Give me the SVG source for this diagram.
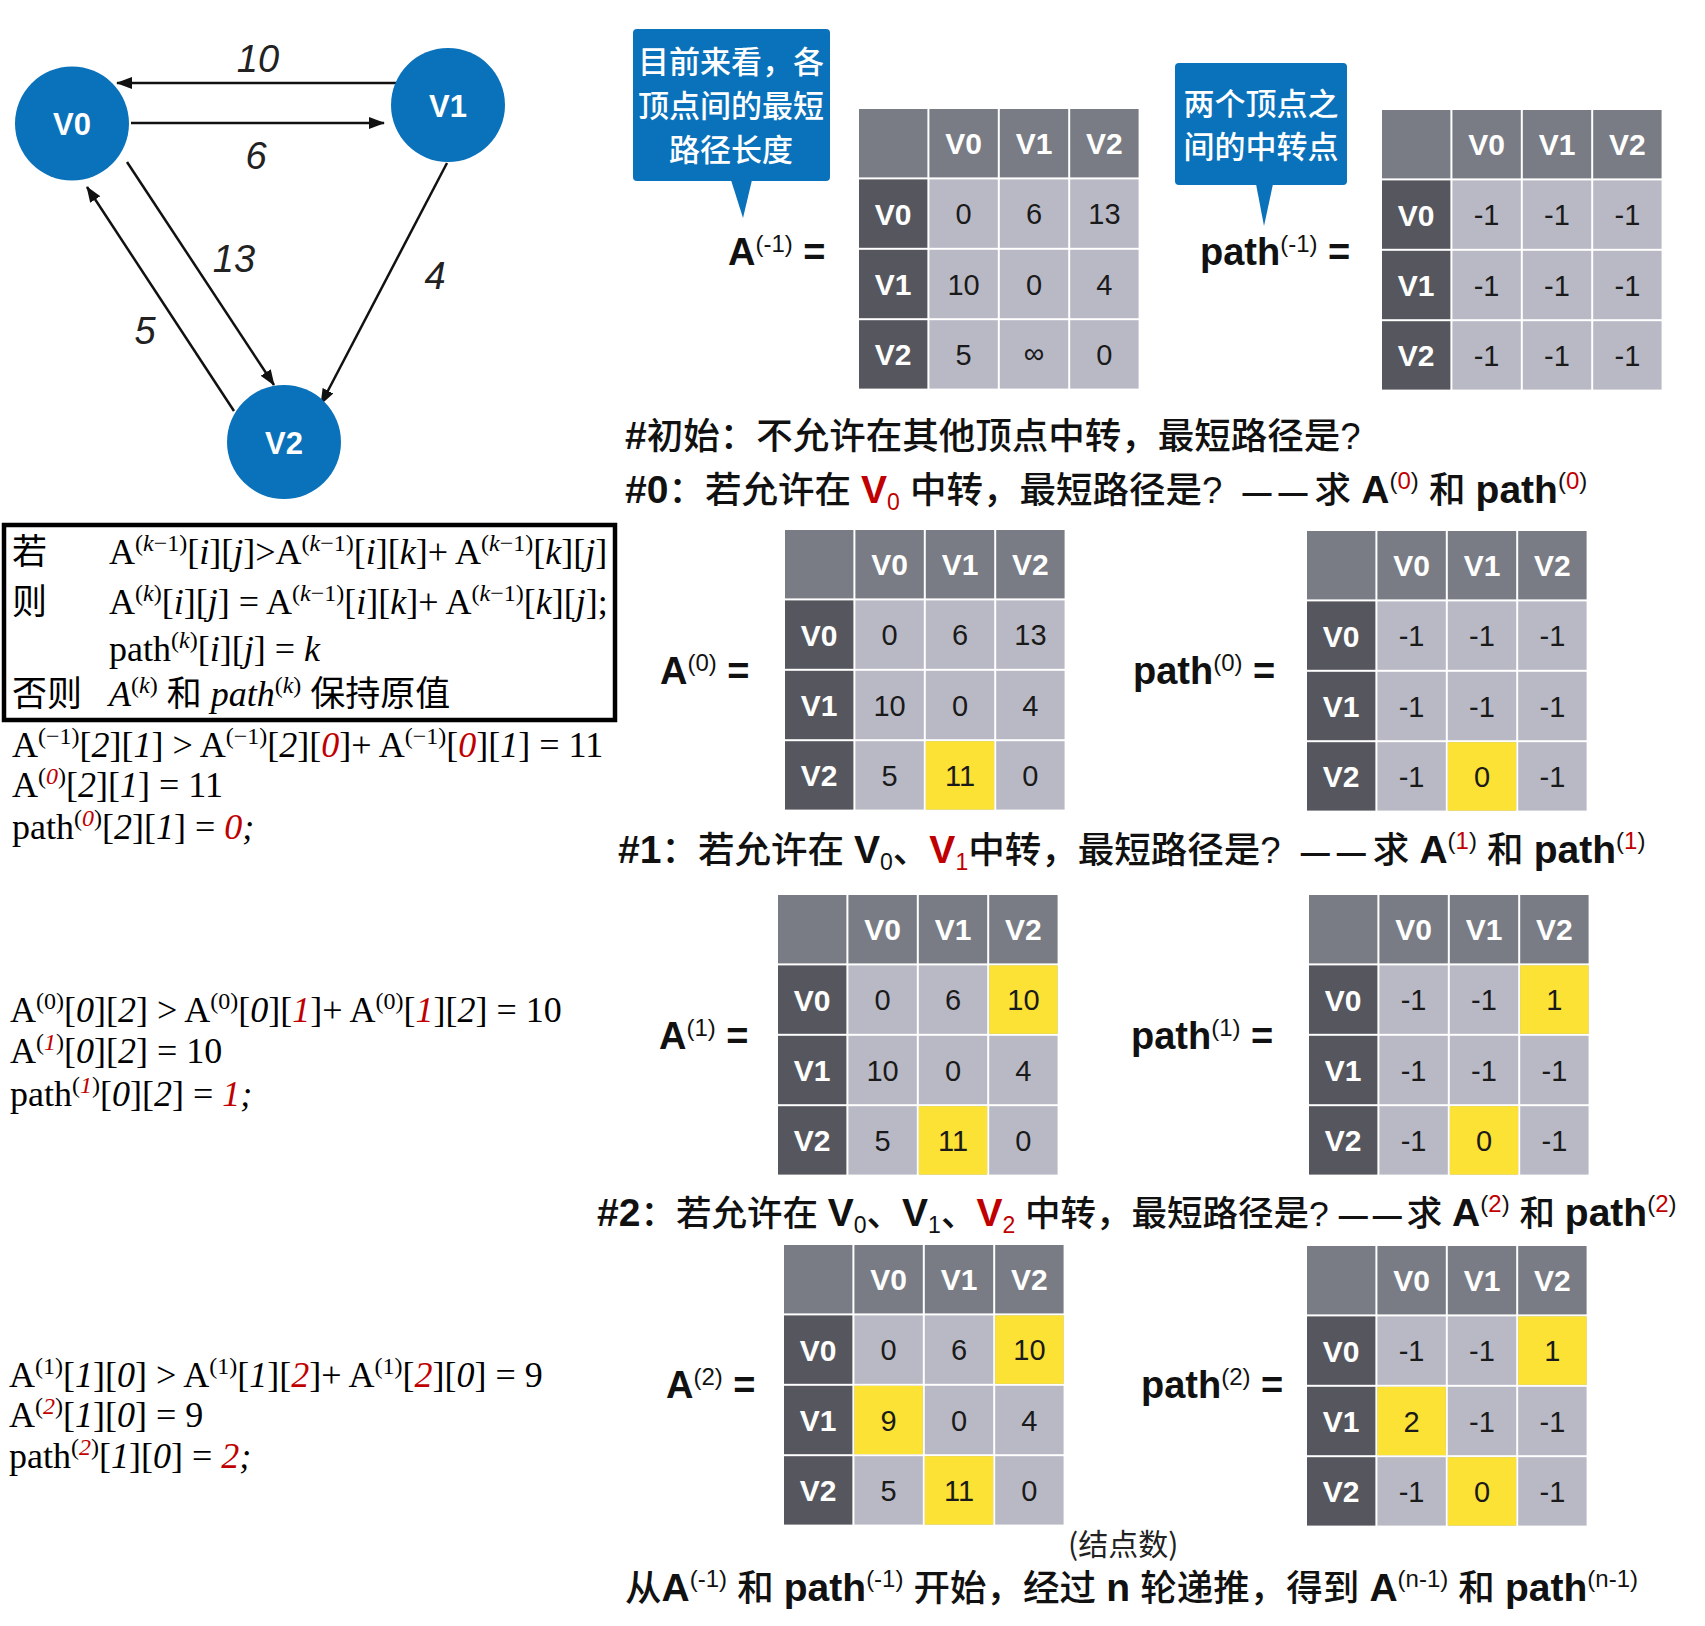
<svg xmlns="http://www.w3.org/2000/svg" width="1705" height="1626" viewBox="0 0 1705 1626">
<style>
.node{fill:#0a72ba}
.nt{font-family:"Liberation Sans",sans-serif;font-weight:bold;font-size:31px;fill:#fff;text-anchor:middle}
.edge{stroke:#111;stroke-width:2.5;fill:none}
.el{font-family:"Liberation Sans",sans-serif;font-style:italic;font-size:38px;fill:#222;text-anchor:middle}
.callout{fill:#0a72ba}
.ct{font-family:"Noto Sans CJK SC",sans-serif;font-size:31px;font-weight:500;fill:#fff;text-anchor:middle}
.ch{fill:#797c84}
.cl{fill:#56575e}
.cd{fill:#b9b9c5}
.hl{fill:#fbe235}
.hd{font-family:"Liberation Sans",sans-serif;font-weight:bold;font-size:30px;fill:#fff;text-anchor:middle}
.cv{font-family:"Liberation Sans",sans-serif;font-size:29px;fill:#1a1a1a;text-anchor:middle}
.lbl{font-family:"Liberation Sans",sans-serif;font-weight:bold;font-size:38px;fill:#111}
.h{font-family:"Liberation Sans","Noto Sans CJK SC",sans-serif;font-size:36.5px;font-weight:500;fill:#111}
.h2{font-size:35.5px}
.b{font-weight:bold;font-size:39px}
.sp{font-size:24px;font-weight:normal}
.sub{font-size:23px;font-weight:normal}
.dash{font-size:29px;font-weight:bold;letter-spacing:7px}
.red{fill:#c00000}
.tm{font-family:"Liberation Serif","Noto Sans CJK SC",serif;font-size:36px;fill:#000}
.i{font-style:italic}
.s{font-size:24px}
.cj{font-family:"Noto Sans CJK SC",sans-serif;font-size:35px;fill:#000}
.cjs{font-family:"Noto Sans CJK SC",sans-serif;font-size:35px;font-style:normal}
.note{font-family:"Noto Sans CJK SC",sans-serif;font-size:30px;fill:#222}
</style>
<defs>
<marker id="arr" viewBox="0 0 16 12" refX="15" refY="6" markerWidth="16" markerHeight="12" markerUnits="userSpaceOnUse" orient="auto"><path d="M0,0 L16,6 L0,12 z" fill="#111"/></marker>
<g id="grid">
<rect class="ch" x="1" y="1" width="68.4" height="68.4"/>
<rect class="ch" x="71.4" y="1" width="68.4" height="68.4"/>
<rect class="ch" x="141.8" y="1" width="68.4" height="68.4"/>
<rect class="ch" x="212.2" y="1" width="68.4" height="68.4"/>
<rect class="cl" x="1" y="71.4" width="68.4" height="68.4"/>
<rect class="cl" x="1" y="141.8" width="68.4" height="68.4"/>
<rect class="cl" x="1" y="212.2" width="68.4" height="68.4"/>
<rect class="cd" x="71.4" y="71.4" width="68.4" height="68.4"/>
<rect class="cd" x="141.8" y="71.4" width="68.4" height="68.4"/>
<rect class="cd" x="212.2" y="71.4" width="68.4" height="68.4"/>
<rect class="cd" x="71.4" y="141.8" width="68.4" height="68.4"/>
<rect class="cd" x="141.8" y="141.8" width="68.4" height="68.4"/>
<rect class="cd" x="212.2" y="141.8" width="68.4" height="68.4"/>
<rect class="cd" x="71.4" y="212.2" width="68.4" height="68.4"/>
<rect class="cd" x="141.8" y="212.2" width="68.4" height="68.4"/>
<rect class="cd" x="212.2" y="212.2" width="68.4" height="68.4"/>
<text class="hd" x="105.6" y="46">V0</text>
<text class="hd" x="176" y="46">V1</text>
<text class="hd" x="246.4" y="46">V2</text>
<text class="hd" x="35.2" y="116.6">V0</text>
<text class="hd" x="35.2" y="187">V1</text>
<text class="hd" x="35.2" y="257.4">V2</text>
</g>
</defs>
<rect x="0" y="0" width="1705" height="1626" fill="#fff"/>

<g id="connectors">
<line class="edge" x1="399" y1="83" x2="117" y2="83" marker-end="url(#arr)"/>
<line class="edge" x1="131" y1="123" x2="384" y2="123" marker-end="url(#arr)"/>
<line class="edge" x1="127" y1="162" x2="274" y2="385" marker-end="url(#arr)"/>
<line class="edge" x1="234" y1="411" x2="87" y2="187" marker-end="url(#arr)"/>
<line class="edge" x1="447" y1="163" x2="321" y2="404" marker-end="url(#arr)"/>
</g>
<g id="edge-labels">
<text class="el" x="258" y="72">10</text>
<text class="el" x="256" y="169">6</text>
<text class="el" x="234" y="272">13</text>
<text class="el" x="145" y="344">5</text>
<text class="el" x="435" y="289">4</text>
</g>
<g id="node-v0"><circle class="node" cx="72" cy="123.5" r="57"/><text class="nt" x="72" y="135">V0</text></g>
<g id="node-v1"><circle class="node" cx="448" cy="105" r="57"/><text class="nt" x="448" y="117">V1</text></g>
<g id="node-v2"><circle class="node" cx="284" cy="442" r="57"/><text class="nt" x="284" y="454">V2</text></g>

<g id="callout-1">
<rect class="callout" x="633" y="29" width="197" height="152" rx="4"/>
<path class="callout" d="M731,180 L752,180 L743,218 z"/>
<text class="ct" x="731" y="73">目前来看，各</text>
<text class="ct" x="731" y="117">顶点间的最短</text>
<text class="ct" x="731" y="161">路径长度</text>
</g>
<g id="callout-2">
<rect class="callout" x="1175" y="63" width="172" height="122" rx="4"/>
<path class="callout" d="M1256,184 L1273,184 L1264,226 z"/>
<text class="ct" x="1261" y="115">两个顶点之</text>
<text class="ct" x="1261" y="158">间的中转点</text>
</g>

<g id="labels">
<text class="lbl" x="728" y="265">A<tspan class="sp" dy="-13">(-1)</tspan><tspan dy="13"> =</tspan></text>
<text class="lbl" x="1200" y="265">path<tspan class="sp" dy="-13">(-1)</tspan><tspan dy="13"> =</tspan></text>
<text class="lbl" x="660" y="684">A<tspan class="sp" dy="-13">(0)</tspan><tspan dy="13"> =</tspan></text>
<text class="lbl" x="1133" y="684">path<tspan class="sp" dy="-13">(0)</tspan><tspan dy="13"> =</tspan></text>
<text class="lbl" x="659" y="1049">A<tspan class="sp" dy="-13">(1)</tspan><tspan dy="13"> =</tspan></text>
<text class="lbl" x="1131" y="1049">path<tspan class="sp" dy="-13">(1)</tspan><tspan dy="13"> =</tspan></text>
<text class="lbl" x="666" y="1398">A<tspan class="sp" dy="-13">(2)</tspan><tspan dy="13"> =</tspan></text>
<text class="lbl" x="1141" y="1398">path<tspan class="sp" dy="-13">(2)</tspan><tspan dy="13"> =</tspan></text>
</g>

<g id="table-A-1" transform="translate(858,108)"><use href="#grid"/>
<text class="cv" x="105.6" y="116">0</text><text class="cv" x="176" y="116">6</text><text class="cv" x="246.4" y="116">13</text>
<text class="cv" x="105.6" y="186.5">10</text><text class="cv" x="176" y="186.5">0</text><text class="cv" x="246.4" y="186.5">4</text>
<text class="cv" x="105.6" y="257">5</text><text class="cv" x="176" y="255" font-size="26">∞</text><text class="cv" x="246.4" y="257">0</text>
</g>
<g id="table-path-1" transform="translate(1381,109)"><use href="#grid"/>
<text class="cv" x="105.6" y="116">-1</text><text class="cv" x="176" y="116">-1</text><text class="cv" x="246.4" y="116">-1</text>
<text class="cv" x="105.6" y="186.5">-1</text><text class="cv" x="176" y="186.5">-1</text><text class="cv" x="246.4" y="186.5">-1</text>
<text class="cv" x="105.6" y="257">-1</text><text class="cv" x="176" y="257">-1</text><text class="cv" x="246.4" y="257">-1</text>
</g>
<g id="table-A0" transform="translate(784,529)"><use href="#grid"/>
<rect class="hl" x="141.8" y="212.2" width="68.4" height="68.4"/>
<text class="cv" x="105.6" y="116">0</text><text class="cv" x="176" y="116">6</text><text class="cv" x="246.4" y="116">13</text>
<text class="cv" x="105.6" y="186.5">10</text><text class="cv" x="176" y="186.5">0</text><text class="cv" x="246.4" y="186.5">4</text>
<text class="cv" x="105.6" y="257">5</text><text class="cv" x="176" y="257">11</text><text class="cv" x="246.4" y="257">0</text>
</g>
<g id="table-path0" transform="translate(1306,530)"><use href="#grid"/>
<rect class="hl" x="141.8" y="212.2" width="68.4" height="68.4"/>
<text class="cv" x="105.6" y="116">-1</text><text class="cv" x="176" y="116">-1</text><text class="cv" x="246.4" y="116">-1</text>
<text class="cv" x="105.6" y="186.5">-1</text><text class="cv" x="176" y="186.5">-1</text><text class="cv" x="246.4" y="186.5">-1</text>
<text class="cv" x="105.6" y="257">-1</text><text class="cv" x="176" y="257">0</text><text class="cv" x="246.4" y="257">-1</text>
</g>
<g id="table-A1" transform="translate(777,894)"><use href="#grid"/>
<rect class="hl" x="212.2" y="71.4" width="68.4" height="68.4"/>
<rect class="hl" x="141.8" y="212.2" width="68.4" height="68.4"/>
<text class="cv" x="105.6" y="116">0</text><text class="cv" x="176" y="116">6</text><text class="cv" x="246.4" y="116">10</text>
<text class="cv" x="105.6" y="186.5">10</text><text class="cv" x="176" y="186.5">0</text><text class="cv" x="246.4" y="186.5">4</text>
<text class="cv" x="105.6" y="257">5</text><text class="cv" x="176" y="257">11</text><text class="cv" x="246.4" y="257">0</text>
</g>
<g id="table-path1" transform="translate(1308,894)"><use href="#grid"/>
<rect class="hl" x="212.2" y="71.4" width="68.4" height="68.4"/>
<rect class="hl" x="141.8" y="212.2" width="68.4" height="68.4"/>
<text class="cv" x="105.6" y="116">-1</text><text class="cv" x="176" y="116">-1</text><text class="cv" x="246.4" y="116">1</text>
<text class="cv" x="105.6" y="186.5">-1</text><text class="cv" x="176" y="186.5">-1</text><text class="cv" x="246.4" y="186.5">-1</text>
<text class="cv" x="105.6" y="257">-1</text><text class="cv" x="176" y="257">0</text><text class="cv" x="246.4" y="257">-1</text>
</g>
<g id="table-A2" transform="translate(783,1244)"><use href="#grid"/>
<rect class="hl" x="212.2" y="71.4" width="68.4" height="68.4"/>
<rect class="hl" x="71.4" y="141.8" width="68.4" height="68.4"/>
<rect class="hl" x="141.8" y="212.2" width="68.4" height="68.4"/>
<text class="cv" x="105.6" y="116">0</text><text class="cv" x="176" y="116">6</text><text class="cv" x="246.4" y="116">10</text>
<text class="cv" x="105.6" y="186.5">9</text><text class="cv" x="176" y="186.5">0</text><text class="cv" x="246.4" y="186.5">4</text>
<text class="cv" x="105.6" y="257">5</text><text class="cv" x="176" y="257">11</text><text class="cv" x="246.4" y="257">0</text>
</g>
<g id="table-path2" transform="translate(1306,1245)"><use href="#grid"/>
<rect class="hl" x="212.2" y="71.4" width="68.4" height="68.4"/>
<rect class="hl" x="71.4" y="141.8" width="68.4" height="68.4"/>
<rect class="hl" x="141.8" y="212.2" width="68.4" height="68.4"/>
<text class="cv" x="105.6" y="116">-1</text><text class="cv" x="176" y="116">-1</text><text class="cv" x="246.4" y="116">1</text>
<text class="cv" x="105.6" y="186.5">2</text><text class="cv" x="176" y="186.5">-1</text><text class="cv" x="246.4" y="186.5">-1</text>
<text class="cv" x="105.6" y="257">-1</text><text class="cv" x="176" y="257">0</text><text class="cv" x="246.4" y="257">-1</text>
</g>

<g id="headings">
<text class="h" x="625" y="449"><tspan class="b">#</tspan>初始：不允许在其他顶点中转，最短路径是?</text>
<text class="h" x="625" y="503"><tspan class="b">#0</tspan>：若允许在 <tspan class="b red">V</tspan><tspan class="sub red" dy="7">0</tspan><tspan dy="-7"> 中转，最短路径是?&#160; </tspan><tspan class="dash">——</tspan>求 <tspan class="b">A</tspan><tspan class="sp" dy="-14">(<tspan class="red">0</tspan>)</tspan><tspan dy="14"> 和 </tspan><tspan class="b">path</tspan><tspan class="sp" dy="-14">(<tspan class="red">0</tspan>)</tspan></text>
<text class="h" x="618" y="863"><tspan class="b">#1</tspan>：若允许在 <tspan class="b">V</tspan><tspan class="sub" dy="7">0</tspan><tspan dy="-7">、</tspan><tspan class="b red">V</tspan><tspan class="sub red" dy="7">1</tspan><tspan dy="-7">中转，最短路径是?&#160; </tspan><tspan class="dash">——</tspan>求 <tspan class="b">A</tspan><tspan class="sp" dy="-14">(<tspan class="red">1</tspan>)</tspan><tspan dy="14"> 和 </tspan><tspan class="b">path</tspan><tspan class="sp" dy="-14">(<tspan class="red">1</tspan>)</tspan></text>
<text class="h h2" x="597" y="1226"><tspan class="b">#2</tspan>：若允许在 <tspan class="b">V</tspan><tspan class="sub" dy="7">0</tspan><tspan dy="-7">、</tspan><tspan class="b">V</tspan><tspan class="sub" dy="7">1</tspan><tspan dy="-7">、</tspan><tspan class="b red">V</tspan><tspan class="sub red" dy="7">2</tspan><tspan dy="-7"> 中转，最短路径是? </tspan><tspan class="dash" style="letter-spacing:5px">——</tspan>求 <tspan class="b">A</tspan><tspan class="sp" dy="-14">(<tspan class="red">2</tspan>)</tspan><tspan dy="14"> 和 </tspan><tspan class="b">path</tspan><tspan class="sp" dy="-14">(<tspan class="red">2</tspan>)</tspan></text>
<text class="note" x="1068" y="1555">(结点数)</text>
<text class="h" x="625" y="1601">从<tspan class="b">A</tspan><tspan class="sp" dy="-14">(-1)</tspan><tspan dy="14"> 和 </tspan><tspan class="b">path</tspan><tspan class="sp" dy="-14">(-1)</tspan><tspan dy="14"> 开始，经过 </tspan><tspan class="b">n</tspan> 轮递推，得到 <tspan class="b">A</tspan><tspan class="sp" dy="-14">(n-1)</tspan><tspan dy="14"> 和 </tspan><tspan class="b">path</tspan><tspan class="sp" dy="-14">(n-1)</tspan></text>
</g>

<g id="rule-box">
<rect x="4" y="525" width="611" height="195" fill="none" stroke="#000" stroke-width="4.5"/>
<text class="cj" x="12" y="564">若</text>
<text class="tm" x="109" y="564">A<tspan class="s" dy="-13">(<tspan class="i">k</tspan>−1)</tspan><tspan dy="13">[<tspan class="i">i</tspan>][<tspan class="i">j</tspan>]&gt;A</tspan><tspan class="s" dy="-13">(<tspan class="i">k</tspan>−1)</tspan><tspan dy="13">[<tspan class="i">i</tspan>][<tspan class="i">k</tspan>]+ A</tspan><tspan class="s" dy="-13">(<tspan class="i">k</tspan>−1)</tspan><tspan dy="13">[<tspan class="i">k</tspan>][<tspan class="i">j</tspan>]</tspan></text>
<text class="cj" x="12" y="614">则</text>
<text class="tm" x="109" y="614">A<tspan class="s" dy="-13">(<tspan class="i">k</tspan>)</tspan><tspan dy="13">[<tspan class="i">i</tspan>][<tspan class="i">j</tspan>] = A</tspan><tspan class="s" dy="-13">(<tspan class="i">k</tspan>−1)</tspan><tspan dy="13">[<tspan class="i">i</tspan>][<tspan class="i">k</tspan>]+ A</tspan><tspan class="s" dy="-13">(<tspan class="i">k</tspan>−1)</tspan><tspan dy="13">[<tspan class="i">k</tspan>][<tspan class="i">j</tspan>];</tspan></text>
<text class="tm" x="109" y="661">path<tspan class="s" dy="-13">(<tspan class="i">k</tspan>)</tspan><tspan dy="13">[<tspan class="i">i</tspan>][<tspan class="i">j</tspan>] = <tspan class="i">k</tspan></tspan></text>
<text class="cj" x="12" y="706">否则</text>
<text class="tm" x="109" y="706"><tspan class="i">A</tspan><tspan class="s" dy="-13">(<tspan class="i">k</tspan>)</tspan><tspan dy="13"> <tspan class="cjs">和</tspan> <tspan class="i">path</tspan></tspan><tspan class="s" dy="-13">(<tspan class="i">k</tspan>)</tspan><tspan dy="13"> <tspan class="cjs">保持原值</tspan></tspan></text>
</g>

<g id="steps">
<text class="tm" x="12" y="757">A<tspan class="s" dy="-13">(−1)</tspan><tspan dy="13">[<tspan class="i">2</tspan>][<tspan class="i">1</tspan>] &gt; A</tspan><tspan class="s" dy="-13">(−1)</tspan><tspan dy="13">[<tspan class="i">2</tspan>][<tspan class="i red">0</tspan>]+ A</tspan><tspan class="s" dy="-13">(−1)</tspan><tspan dy="13">[<tspan class="i red">0</tspan>][<tspan class="i">1</tspan>] = 11</tspan></text>
<text class="tm" x="12" y="797">A<tspan class="s" dy="-13">(<tspan class="i red">0</tspan>)</tspan><tspan dy="13">[<tspan class="i">2</tspan>][<tspan class="i">1</tspan>] = 11</tspan></text>
<text class="tm" x="12" y="839">path<tspan class="s" dy="-13">(<tspan class="i red">0</tspan>)</tspan><tspan dy="13">[<tspan class="i">2</tspan>][<tspan class="i">1</tspan>] = <tspan class="i red">0</tspan><tspan class="i">;</tspan></tspan></text>
<text class="tm" x="10" y="1022">A<tspan class="s" dy="-13">(0)</tspan><tspan dy="13">[<tspan class="i">0</tspan>][<tspan class="i">2</tspan>] &gt; A</tspan><tspan class="s" dy="-13">(0)</tspan><tspan dy="13">[<tspan class="i">0</tspan>][<tspan class="i red">1</tspan>]+ A</tspan><tspan class="s" dy="-13">(0)</tspan><tspan dy="13">[<tspan class="i red">1</tspan>][<tspan class="i">2</tspan>] = 10</tspan></text>
<text class="tm" x="10" y="1063">A<tspan class="s" dy="-13">(<tspan class="i red">1</tspan>)</tspan><tspan dy="13">[<tspan class="i">0</tspan>][<tspan class="i">2</tspan>] = 10</tspan></text>
<text class="tm" x="10" y="1106">path<tspan class="s" dy="-13">(<tspan class="i red">1</tspan>)</tspan><tspan dy="13">[<tspan class="i">0</tspan>][<tspan class="i">2</tspan>] = <tspan class="i red">1</tspan><tspan class="i">;</tspan></tspan></text>
<text class="tm" x="9" y="1387">A<tspan class="s" dy="-13">(1)</tspan><tspan dy="13">[<tspan class="i">1</tspan>][<tspan class="i">0</tspan>] &gt; A</tspan><tspan class="s" dy="-13">(1)</tspan><tspan dy="13">[<tspan class="i">1</tspan>][<tspan class="i red">2</tspan>]+ A</tspan><tspan class="s" dy="-13">(1)</tspan><tspan dy="13">[<tspan class="i red">2</tspan>][<tspan class="i">0</tspan>] = 9</tspan></text>
<text class="tm" x="9" y="1427">A<tspan class="s" dy="-13">(<tspan class="i red">2</tspan>)</tspan><tspan dy="13">[<tspan class="i">1</tspan>][<tspan class="i">0</tspan>] = 9</tspan></text>
<text class="tm" x="9" y="1468">path<tspan class="s" dy="-13">(<tspan class="i red">2</tspan>)</tspan><tspan dy="13">[<tspan class="i">1</tspan>][<tspan class="i">0</tspan>] = <tspan class="i red">2</tspan><tspan class="i">;</tspan></tspan></text>
</g>
</svg>
